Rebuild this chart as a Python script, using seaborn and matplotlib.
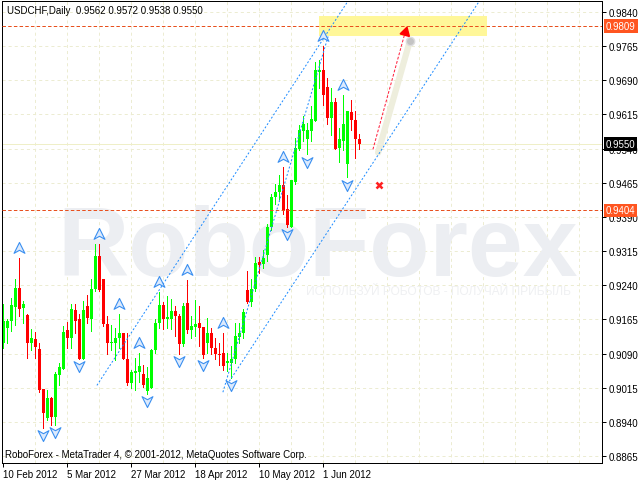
import numpy as np
import pandas as pd
import matplotlib
matplotlib.use("Agg")
import matplotlib.pyplot as plt
import seaborn as sns
from matplotlib.path import Path
from matplotlib.patches import Rectangle

# ---------------- data ----------------
symbol = "USDCHF,Daily"
opens = [0.9114, 0.9147, 0.9162, 0.9192, 0.9234, 0.9190, 0.9175, 0.9114, 0.9121, 0.9099,
         0.9012, 0.8949, 0.8992, 0.8951, 0.9042, 0.9057, 0.9142, 0.9123, 0.9186, 0.9166,
         0.9079, 0.9194, 0.9166, 0.9231, 0.9305, 0.9253, 0.9155, 0.9112, 0.9114, 0.9123,
         0.9136, 0.9077, 0.9025, 0.9047, 0.9049, 0.9044, 0.9007, 0.9014, 0.9097, 0.9157,
         0.9197, 0.9166, 0.9166, 0.9183, 0.9173, 0.9110, 0.9201, 0.9142, 0.9149, 0.9157,
         0.9149, 0.9112, 0.9136, 0.9103, 0.9090, 0.9092, 0.9070, 0.9070, 0.9079, 0.9127,
         0.9134, 0.9229, 0.9203, 0.9231, 0.9290, 0.9286, 0.9307, 0.9368, 0.9434, 0.9444,
         0.9460, 0.9407, 0.9368, 0.9466, 0.9538, 0.9579, 0.9560, 0.9579, 0.9601, 0.9707,
         0.9712, 0.9675, 0.9607, 0.9642, 0.9542, 0.9557, 0.9505, 0.9620, 0.9603, 0.9562]
highs = [0.9199, 0.9166, 0.9212, 0.9253, 0.9299, 0.9205, 0.9177, 0.9144, 0.9138, 0.9114,
         0.9012, 0.9010, 0.8994, 0.9049, 0.9070, 0.9151, 0.9160, 0.9199, 0.9199, 0.9177,
         0.9205, 0.9218, 0.9253, 0.9331, 0.9331, 0.9253, 0.9173, 0.9153, 0.9147, 0.9177,
         0.9136, 0.9136, 0.9053, 0.9081, 0.9092, 0.9064, 0.9060, 0.9099, 0.9166, 0.9225,
         0.9203, 0.9216, 0.9210, 0.9194, 0.9177, 0.9201, 0.9251, 0.9173, 0.9207, 0.9194,
         0.9149, 0.9168, 0.9147, 0.9123, 0.9114, 0.9134, 0.9092, 0.9107, 0.9157, 0.9157,
         0.9188, 0.9271, 0.9253, 0.9301, 0.9301, 0.9318, 0.9375, 0.9440, 0.9462, 0.9481,
         0.9499, 0.9438, 0.9470, 0.9564, 0.9592, 0.9612, 0.9597, 0.9634, 0.9731, 0.9734,
         0.9766, 0.9694, 0.9673, 0.9651, 0.9586, 0.9657, 0.9623, 0.9647, 0.9623, 0.9572]
lows = [0.9101, 0.9112, 0.9140, 0.9153, 0.9173, 0.9157, 0.9081, 0.9097, 0.9081, 0.9005,
        0.8927, 0.8944, 0.8934, 0.8934, 0.9020, 0.9057, 0.9103, 0.9101, 0.9136, 0.9079,
        0.9077, 0.9157, 0.9140, 0.9227, 0.9227, 0.9151, 0.9090, 0.9097, 0.9075, 0.9103,
        0.9077, 0.9020, 0.9014, 0.9010, 0.9027, 0.9016, 0.9001, 0.9014, 0.9092, 0.9147,
        0.9144, 0.9147, 0.9144, 0.9129, 0.9090, 0.9107, 0.9136, 0.9123, 0.9129, 0.9107,
        0.9081, 0.9092, 0.9090, 0.9079, 0.9064, 0.9053, 0.9051, 0.9036, 0.9070, 0.9112,
        0.9123, 0.9201, 0.9194, 0.9227, 0.9266, 0.9277, 0.9292, 0.9362, 0.9418, 0.9429,
        0.9397, 0.9368, 0.9368, 0.9462, 0.9536, 0.9557, 0.9527, 0.9557, 0.9601, 0.9673,
        0.9636, 0.9594, 0.9570, 0.9538, 0.9510, 0.9536, 0.9477, 0.9581, 0.9520, 0.9538]
closes = [0.9162, 0.9162, 0.9197, 0.9234, 0.9188, 0.9199, 0.9114, 0.9123, 0.9105, 0.9010,
          0.8960, 0.8992, 0.8951, 0.9044, 0.9060, 0.9138, 0.9123, 0.9188, 0.9162, 0.9079,
          0.9186, 0.9168, 0.9231, 0.9305, 0.9229, 0.9155, 0.9112, 0.9116, 0.9123, 0.9136,
          0.9079, 0.9025, 0.9049, 0.9051, 0.9062, 0.9020, 0.9036, 0.9097, 0.9157, 0.9197,
          0.9166, 0.9170, 0.9183, 0.9173, 0.9110, 0.9194, 0.9142, 0.9151, 0.9155, 0.9147,
          0.9086, 0.9134, 0.9101, 0.9090, 0.9086, 0.9062, 0.9073, 0.9077, 0.9129, 0.9134,
          0.9181, 0.9203, 0.9231, 0.9288, 0.9284, 0.9299, 0.9368, 0.9434, 0.9444, 0.9460,
          0.9405, 0.9373, 0.9470, 0.9542, 0.9581, 0.9594, 0.9581, 0.9605, 0.9712, 0.9712,
          0.9657, 0.9607, 0.9642, 0.9538, 0.9560, 0.9594, 0.9623, 0.9603, 0.9562, 0.9550]

date_labels = ["10 Feb 2012", "5 Mar 2012", "27 Mar 2012", "18 Apr 2012", "10 May 2012", "1 Jun 2012"]
date_label_bars = [0, 16, 32, 48, 64, 80]
price_ticks = [0.8865, 0.8940, 0.9015, 0.9090, 0.9165, 0.9240, 0.9315, 0.9390,
               0.9465, 0.9540, 0.9615, 0.9690, 0.9765, 0.9840]
fractal_up_bars = [4, 24, 29, 34, 39, 46, 55, 70, 80, 85]
fractal_down_bars = [10, 13, 19, 36, 44, 50, 57, 71, 76, 86]
target_level = 0.9809
stop_level = 0.9404
target_zone_bars = [78.85, 120.85]
target_zone_prices = [0.9786, 0.9832]
channel_upper_bars = [23.4, 87.0]
channel_upper_prices = [0.9020, 0.9875]
channel_lower_bars = [56.5, 120.0]
channel_lower_prices = [0.9029, 0.9877]
channel_steep_bars = [54.9, 81.2]
channel_steep_prices = [0.9005, 0.9786]
forecast_bars = [92.4, 100.3]
forecast_prices = [0.9538, 0.9790]
shadow_bars = [93.7, 101.6]
shadow_prices = [0.9531, 0.9775]
cross_bar = [93.9]
cross_price = [0.9460]
footer = "RoboForex - MetaTrader 4, \u00a9 2001-2012, MetaQuotes Software Corp."
watermark = "RoboForex"
slogan = "ИСПОЛЬЗУЙ РОБОТОВ - ПОЛУЧАЙ ПРИБЫЛЬ"

# ---------------- style ----------------
sns.set_style("white")
plt.rcParams["font.family"] = ["Liberation Sans", "DejaVu Sans"]
plt.rcParams["lines.scale_dashes"] = False

PX = 0.72  # one pixel in points at dpi 100
df = pd.DataFrame({"bar": np.arange(len(opens)), "open": opens, "high": highs,
                   "low": lows, "close": closes})
df["up"] = df["close"] >= df["open"]
df["color"] = np.where(df["up"], "#00ff00", "#ff0000")
df["bottom"] = df[["open", "close"]].min(axis=1)
df["height"] = (df["close"] - df["open"]).abs().clip(lower=0.00022)

fig = plt.figure(figsize=(6.4, 4.81), dpi=100, facecolor="white")
ax = fig.add_axes([2 / 640, 17 / 481, 600 / 640, 462 / 481])
ax.set_facecolor("white")

x_lo, x_hi = -0.325, 149.675
y_lo, y_hi = 0.88496, 0.98639
ax.set_xlim(x_lo, x_hi)
ax.set_ylim(y_lo, y_hi)

# grid
grid_col = "#ececd2"
for b in range(8, 150, 8):
    ax.axvline(b, color=grid_col, lw=PX, ls=(0, (2.2, 2.2)), zorder=0.3)
for p in price_ticks:
    ax.axhline(p, color=grid_col, lw=PX, ls=(0, (2.2, 2.2)), zorder=0.3)

# watermark
ax.text((57 - 2) / 600, (464 - 276) / 462, watermark, transform=ax.transAxes,
        fontsize=71, fontweight="bold", color="#eceef2", ha="left", va="baseline",
        zorder=0.5)
ax.text((306 - 2) / 600, (464 - 295) / 462, slogan, transform=ax.transAxes,
        fontsize=8.6, color="#eff0f2", ha="left", va="baseline", zorder=0.5)

# bid line & levels
ax.axhline(closes[-1], color="#efefc8", lw=PX, zorder=0.6)
ax.add_patch(Rectangle((target_zone_bars[0], target_zone_prices[0]),
                       target_zone_bars[1] - target_zone_bars[0],
                       target_zone_prices[1] - target_zone_prices[0],
                       facecolor="#fff799", edgecolor="none", zorder=0.7))
for lvl in (target_level, stop_level):
    ax.axhline(lvl, color="#e8501e", lw=PX, ls=(0, (2.5, 1.6)), zorder=3)

# candles
ax.vlines(df["bar"], df["low"], df["high"], colors=df["color"], lw=PX,
          antialiased=False, zorder=2)
ax.bar(df["bar"], df["height"], bottom=df["bottom"], width=0.75,
       color=df["color"], linewidth=0, antialiased=False, zorder=2.1)

# channel lines
blue = "#1e8cff"
for bx, py in ((channel_upper_bars, channel_upper_prices),
               (channel_lower_bars, channel_lower_prices),
               (channel_steep_bars, channel_steep_prices)):
    sns.lineplot(x=bx, y=py, ax=ax, color=blue, lw=PX, linestyle=(0, (1.4, 1.4)),
                 zorder=2.5, legend=False)

# forecast arrow
ax.plot(shadow_bars, shadow_prices, color="#eeeedd", lw=4.5, solid_capstyle="round", zorder=1.5)
ax.plot([shadow_bars[-1]], [shadow_prices[-1]], "o", ms=6, color="#c4c4c4",
        mec="#dddddd", mew=1, zorder=1.6)
ax.plot(forecast_bars, forecast_prices, color="#ff1e3c", lw=PX, ls=(0, (2, 1.2)), zorder=3)
ax.plot([forecast_bars[-1] + 0.2], [forecast_prices[-1] + 0.0006], marker=(3, 0, -15.5),
        ms=8, color="#ff0000", zorder=3.1)
ax.plot(cross_bar, cross_price, marker="x", ms=5, mew=1.8, color="#ff2020", ls="none", zorder=3)

# fractal arrows
up_path = Path([(0, 1), (0.9, -0.8), (0, -0.3), (-0.9, -0.8), (0, 1)],
               [Path.MOVETO, Path.LINETO, Path.LINETO, Path.LINETO, Path.CLOSEPOLY])
down_path = Path([(0, -1), (0.9, 0.8), (0, 0.3), (-0.9, 0.8), (0, -1)],
                 [Path.MOVETO, Path.LINETO, Path.LINETO, Path.LINETO, Path.CLOSEPOLY])
up_y = [highs[i] + 0.0022 for i in fractal_up_bars]
dn_y = [lows[i] - 0.0016 for i in fractal_down_bars]
sns.scatterplot(x=fractal_up_bars, y=up_y, ax=ax, marker=up_path, s=75,
                color="#dceafd", edgecolor="#3a8ff0", linewidth=0.8, zorder=4, legend=False)
sns.scatterplot(x=fractal_down_bars, y=dn_y, ax=ax, marker=down_path, s=75,
                color="#dceafd", edgecolor="#3a8ff0", linewidth=0.8, zorder=4, legend=False)

# header & footer
header = f"{symbol}  {opens[-1]:.4f} {highs[-1]:.4f} {lows[-1]:.4f} {closes[-1]:.4f}"
ax.text(5 / 600, 1 - 9 / 462, header, transform=ax.transAxes, fontsize=7,
        color="black", ha="left", va="center", zorder=5)
ax.text(3 / 600, 9 / 462, footer, transform=ax.transAxes, fontsize=7,
        color="black", ha="left", va="center", zorder=5)

# axes / ticks
for s in ax.spines.values():
    s.set_visible(True)
    s.set_color("black")
    s.set_linewidth(PX)
ax.yaxis.tick_right()
ax.set_yticks(price_ticks)
ax.set_yticklabels([f"{p:.4f}" for p in price_ticks])
ax.set_xticks(date_label_bars)
ax.set_xticklabels(date_labels)
for lab in ax.get_xticklabels():
    lab.set_horizontalalignment("left")
ax.tick_params(axis="y", which="both", right=True, left=False, direction="out",
               length=3, width=PX, pad=1.5, labelsize=7, colors="black")
ax.tick_params(axis="x", which="both", bottom=True, direction="out",
               length=3, width=PX, pad=1, labelsize=7, colors="black")
ax.set_xlabel("")
ax.set_ylabel("")

# price boxes on the right scale
def price_box(val, fc):
    ax.text(1 + 4 / 600, val, f"{val:.4f}", transform=ax.get_yaxis_transform(),
            ha="left", va="center", fontsize=7, color="white", clip_on=False, zorder=10,
            bbox=dict(boxstyle="square,pad=0.18", fc=fc, ec="none"))

price_box(target_level, "#ff5520")
price_box(closes[-1], "#000000")
price_box(stop_level, "#ff5520")

fig.savefig("out.png", dpi=100, facecolor="white")
